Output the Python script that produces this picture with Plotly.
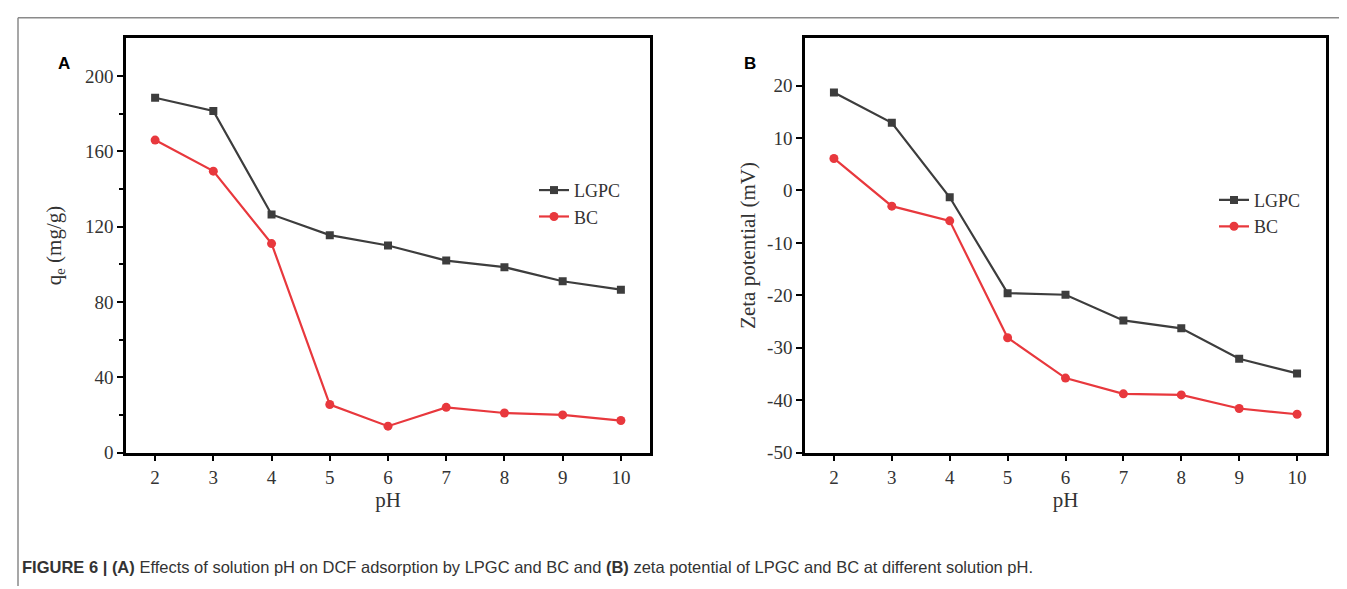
import plotly.graph_objects as go

ph = [2, 3, 4, 5, 6, 7, 8, 9, 10]
qe_lgpc = [188.5, 181.5, 126.5, 115.5, 110, 102, 98.5, 91, 86.5]
qe_bc = [166, 149.5, 111, 25.5, 14, 24, 21, 20, 17]
zeta_lgpc = [18.7, 12.9, -1.3, -19.6, -19.9, -24.8, -26.3, -32.1, -34.9]
zeta_bc = [6.1, -3.0, -5.8, -28.1, -35.8, -38.8, -39.0, -41.6, -42.7]
qe_ticks = [0, 40, 80, 120, 160, 200]
zeta_ticks = [-50, -40, -30, -20, -10, 0, 10, 20]

W, H = 1347, 589
GRAY = "#3d3d3d"
RED = "#e8383d"
SERIF = "Liberation Serif, Times New Roman, serif"

def px_x(x):
    return x / W

def px_y(y):
    return 1 - y / H

fig = go.Figure()

def add_pair(xa, ya, lg, s1, s2):
    fig.add_trace(go.Scatter(x=ph, y=s1, name="LGPC", mode="lines+markers",
                             line=dict(color=GRAY, width=2.2),
                             marker=dict(symbol="square", size=8, color=GRAY),
                             xaxis=xa, yaxis=ya, legend=lg))
    fig.add_trace(go.Scatter(x=ph, y=s2, name="BC", mode="lines+markers",
                             line=dict(color=RED, width=2.2),
                             marker=dict(symbol="circle", size=9, color=RED),
                             xaxis=xa, yaxis=ya, legend=lg))

add_pair("x", "y", "legend", qe_lgpc, qe_bc)
add_pair("x2", "y2", "legend2", zeta_lgpc, zeta_bc)

ydom = [px_y(453), px_y(31)]
axis_common = dict(showline=True, linecolor="black", linewidth=2.5, mirror=True,
                   ticks="outside", ticklen=6, tickwidth=2, tickcolor="black",
                   showgrid=False, zeroline=False,
                   tickfont=dict(family=SERIF, size=19, color="#333"),
                   title_font=dict(family=SERIF, size=21, color="#333"))

fig.update_layout(
    width=W, height=H, margin=dict(l=0, r=0, t=0, b=0),
    paper_bgcolor="white", plot_bgcolor="white", showlegend=True,
    xaxis=dict(domain=[px_x(118), px_x(642)], range=[1.5, 10.5], tickvals=ph,
               title=dict(text="pH", standoff=2), anchor="y", **axis_common),
    yaxis=dict(domain=ydom, range=[0, 220], tickvals=qe_ticks,
               minor=dict(tickvals=[20, 60, 100, 140, 180], ticks="outside", ticklen=4,
                          tickwidth=2, tickcolor="black"),
               title=dict(text="q<sub>e</sub> (mg/g)", standoff=18), anchor="x", **axis_common),
    xaxis2=dict(domain=[px_x(797), px_x(1318)], range=[1.5, 10.5], tickvals=ph,
                title=dict(text="pH", standoff=2), anchor="y2", **axis_common),
    yaxis2=dict(domain=ydom, range=[-50, 29], tickvals=zeta_ticks,
                ticktext=[str(v) for v in zeta_ticks],
                title=dict(text="Zeta potential (mV)", standoff=6), anchor="x2", **axis_common),
    legend=dict(x=px_x(526), y=px_y(167), xanchor="left", yanchor="top",
                bgcolor="rgba(0,0,0,0)", font=dict(family=SERIF, size=18, color="#333"),
                tracegroupgap=0, itemwidth=30),
    legend2=dict(x=px_x(1206), y=px_y(177), xanchor="left", yanchor="top",
                 bgcolor="rgba(0,0,0,0)", font=dict(family=SERIF, size=18, color="#333"),
                 tracegroupgap=0, itemwidth=30),
)

fig.add_annotation(text="<b>A</b>", x=px_x(48), y=px_y(45), xref="paper", yref="paper",
                   showarrow=False, font=dict(family="Liberation Sans, Arial", size=17, color="black"))
fig.add_annotation(text="<b>B</b>", x=px_x(742), y=px_y(45), xref="paper", yref="paper",
                   showarrow=False, font=dict(family="Liberation Sans, Arial", size=17, color="black"))

caption = ("<b>FIGURE 6 | (A)</b> Effects of solution pH on DCF adsorption by LPGC and BC and "
           "<b>(B)</b> zeta potential of LPGC and BC at different solution pH.")
fig.add_annotation(text=caption, x=px_x(12), y=px_y(570), xref="paper", yref="paper",
                   xanchor="left", yanchor="middle", showarrow=False,
                   font=dict(family="Liberation Sans, Arial", size=16.5, color="#333"))

# outer frame lines
fig.add_shape(type="line", xref="paper", yref="paper", x0=px_x(10), x1=1.0, y0=px_y(10), y1=px_y(10),
              line=dict(color="#8a8a8a", width=1.5))
fig.add_shape(type="line", xref="paper", yref="paper", x0=px_x(10), x1=px_x(10), y0=0, y1=px_y(10),
              line=dict(color="#8a8a8a", width=1.5))

fig.write_html("out.html")
